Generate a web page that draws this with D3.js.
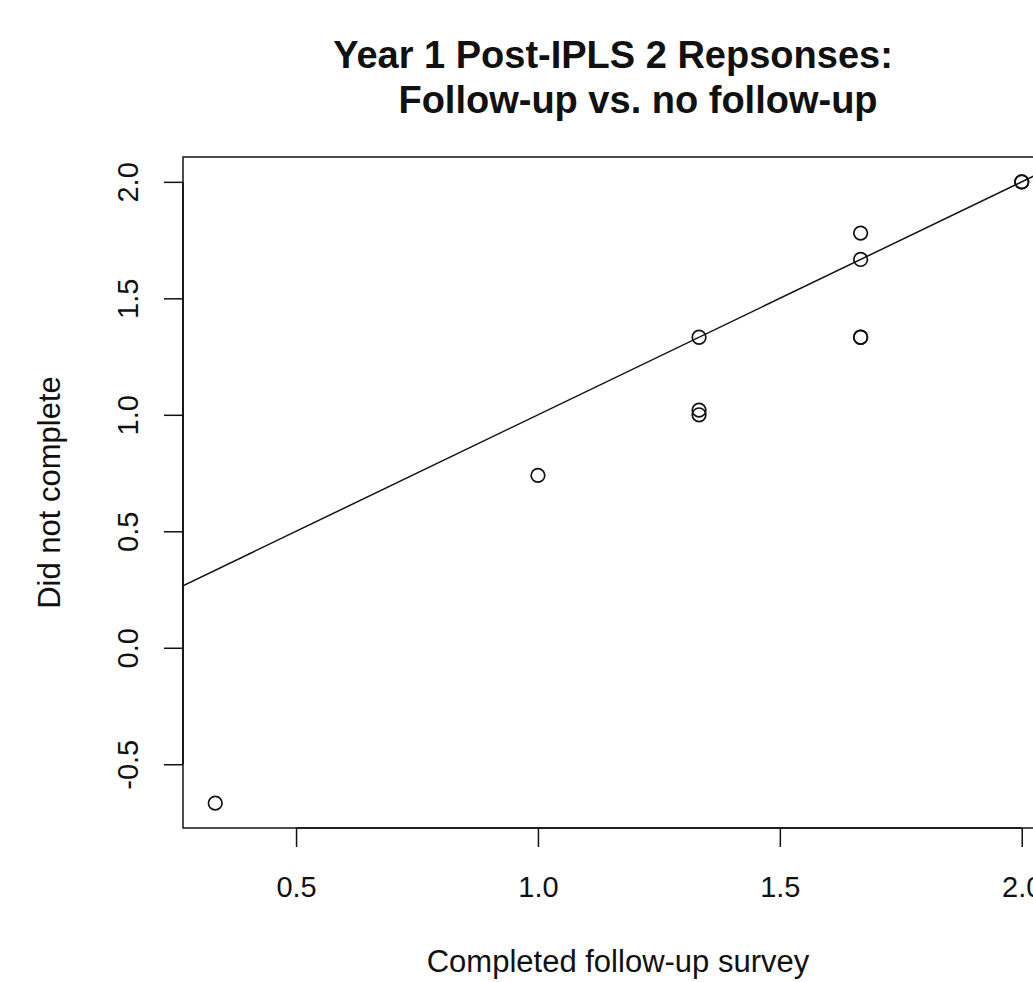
<!DOCTYPE html>
<html>
<head>
  <meta charset="utf-8">
  <title>Year 1 Post-IPLS 2 Repsonses</title>
  <script src="https://cdnjs.cloudflare.com/ajax/libs/d3/7.8.5/d3.min.js"></script>
  <style>
    body { margin: 0; background: #fff; }
    svg text { font-family: "Liberation Sans", Arial, Helvetica, sans-serif; fill: #111; }
  </style>
</head>
<body>
<svg id="chart" width="1033" height="982"></svg>
<script>
// survey scores: completed follow-up (x) vs did not complete (y)
var completed    = [0.333, 1.0, 1.333, 1.333, 1.333, 1.667, 1.667, 1.667, 1.667, 2.0, 2.0];
var notCompleted = [-0.667, 0.74, 1.333, 1.0, 1.02, 1.333, 1.333, 1.667, 1.78, 2.0, 2.0];
var xTicks = [0.5, 1.0, 1.5, 2.0];
var yTicks = [-0.5, 0.0, 0.5, 1.0, 1.5, 2.0];
var refLine = { intercept: 0, slope: 1 };   // abline(0, 1)

var titleLines = ["Year 1 Post-IPLS 2 Repsonses:", "Follow-up vs. no follow-up"];
var xLabel = "Completed follow-up survey";
var yLabel = "Did not complete";

var svg = d3.select("#chart");
var pLeft = 183, pRight = 1054, pTop = 157, pBottom = 828;

// R style 4% padding on each side
function padded(vals) {
  var e = d3.extent(vals), p = (e[1] - e[0]) * 0.04;
  return [e[0] - p, e[1] + p];
}
var x = d3.scaleLinear().domain(padded(completed)).range([pLeft, pRight]);
var y = d3.scaleLinear().domain(padded(notCompleted)).range([pBottom, pTop]);

svg.append("clipPath").attr("id", "plotclip")
  .append("rect").attr("x", pLeft).attr("y", pTop)
  .attr("width", pRight - pLeft).attr("height", pBottom - pTop);

// reference line
var xd = x.domain();
svg.append("line")
  .attr("clip-path", "url(#plotclip)")
  .attr("x1", x(xd[0])).attr("y1", y(refLine.intercept + refLine.slope * xd[0]))
  .attr("x2", x(xd[1])).attr("y2", y(refLine.intercept + refLine.slope * xd[1]))
  .attr("stroke", "#111").attr("stroke-width", 1.5);

// points
svg.append("g").selectAll("circle")
  .data(completed)
  .enter().append("circle")
  .attr("cx", d => x(d))
  .attr("cy", (d, i) => y(notCompleted[i]))
  .attr("r", 6.8)
  .attr("fill", "none")
  .attr("stroke", "#111")
  .attr("stroke-width", 1.7);

// box
svg.append("rect")
  .attr("x", pLeft).attr("y", pTop)
  .attr("width", pRight - pLeft).attr("height", pBottom - pTop)
  .attr("fill", "none").attr("stroke", "#222").attr("stroke-width", 1.6);

var fmt = d => d.toFixed(1);

// x axis
var gx = svg.append("g").attr("transform", "translate(0," + pBottom + ")")
  .call(d3.axisBottom(x).tickValues(xTicks).tickFormat(fmt).tickSize(19).tickPadding(29));
gx.select(".domain").remove();
gx.append("line")
  .attr("x1", x(xTicks[0])).attr("x2", x(xTicks[xTicks.length - 1]))
  .attr("stroke", "#111").attr("stroke-width", 1.7);
gx.selectAll(".tick line").attr("stroke", "#111").attr("stroke-width", 1.5);
gx.selectAll(".tick text").style("font-size", "29px").attr("fill", "#111")
  .style("font-family", "'Liberation Sans', Arial, sans-serif");

// y axis
var gy = svg.append("g").attr("transform", "translate(" + pLeft + ",0)")
  .call(d3.axisLeft(y).tickValues(yTicks).tickFormat(fmt).tickSize(19));
gy.select(".domain").remove();
gy.append("line")
  .attr("y1", y(yTicks[0])).attr("y2", y(yTicks[yTicks.length - 1]))
  .attr("stroke", "#111").attr("stroke-width", 1.7);
gy.selectAll(".tick line").attr("stroke", "#111").attr("stroke-width", 1.5);
gy.selectAll(".tick text")
  .attr("x", 0).attr("y", 0).attr("dy", 0)
  .attr("text-anchor", "middle")
  .attr("transform", "translate(-45,0) rotate(-90)")
  .style("font-size", "29px").attr("fill", "#111")
  .style("font-family", "'Liberation Sans', Arial, sans-serif");

// labels
svg.append("text")
  .attr("x", 618).attr("y", 972)
  .attr("text-anchor", "middle")
  .style("font-size", "31px")
  .text(xLabel);

svg.append("text")
  .attr("transform", "translate(60," + ((pTop + pBottom) / 2) + ") rotate(-90)")
  .attr("text-anchor", "middle")
  .style("font-size", "31px")
  .text(yLabel);

// title
svg.append("text")
  .attr("x", 613).attr("y", 68)
  .attr("text-anchor", "middle")
  .style("font-size", "38px").style("font-weight", "bold")
  .text(titleLines[0]);
svg.append("text")
  .attr("x", 638).attr("y", 113)
  .attr("text-anchor", "middle")
  .style("font-size", "38px").style("font-weight", "bold")
  .text(titleLines[1]);
</script>
</body>
</html>
